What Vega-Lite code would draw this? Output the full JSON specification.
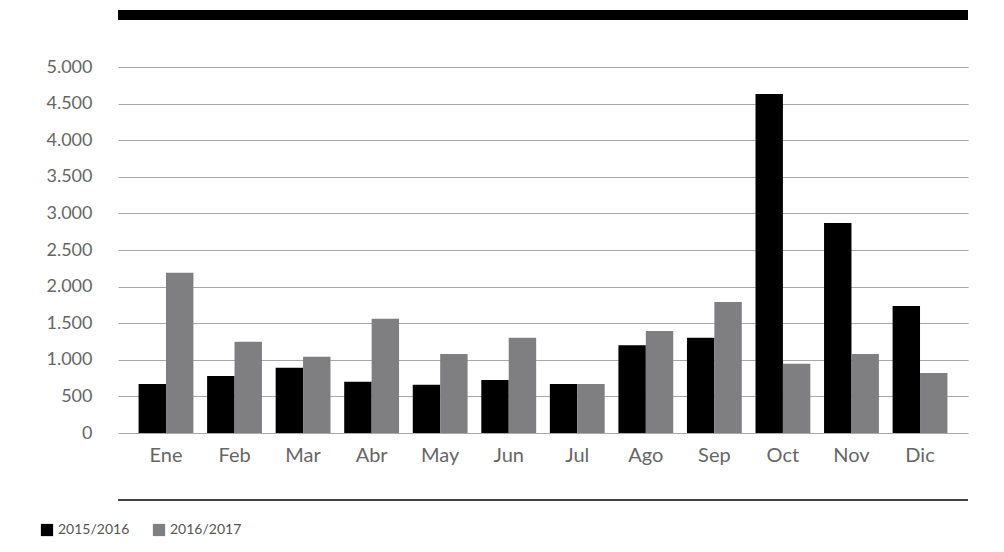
{
  "$schema": "https://vega.github.io/schema/vega-lite/v6.json",
  "autosize": "none",
  "width": 850,
  "height": 366,
  "padding": {"left": 118, "top": 67, "right": 36, "bottom": 119},
  "background": "#ffffff",
  "config": {
    "view": {"stroke": null},
    "font": "Lato",
    "axis": {"labelFont": "Lato", "labelColor": "#666666"}
  },
  "datasets": {
    "bars": [
      {"mes": "Ene", "temporada": "2015/2016", "valor": 670},
      {"mes": "Ene", "temporada": "2016/2017", "valor": 2190},
      {"mes": "Feb", "temporada": "2015/2016", "valor": 780},
      {"mes": "Feb", "temporada": "2016/2017", "valor": 1245},
      {"mes": "Mar", "temporada": "2015/2016", "valor": 890},
      {"mes": "Mar", "temporada": "2016/2017", "valor": 1040},
      {"mes": "Abr", "temporada": "2015/2016", "valor": 700},
      {"mes": "Abr", "temporada": "2016/2017", "valor": 1560},
      {"mes": "May", "temporada": "2015/2016", "valor": 660},
      {"mes": "May", "temporada": "2016/2017", "valor": 1080},
      {"mes": "Jun", "temporada": "2015/2016", "valor": 725},
      {"mes": "Jun", "temporada": "2016/2017", "valor": 1300},
      {"mes": "Jul", "temporada": "2015/2016", "valor": 670},
      {"mes": "Jul", "temporada": "2016/2017", "valor": 670},
      {"mes": "Ago", "temporada": "2015/2016", "valor": 1200},
      {"mes": "Ago", "temporada": "2016/2017", "valor": 1395},
      {"mes": "Sep", "temporada": "2015/2016", "valor": 1300},
      {"mes": "Sep", "temporada": "2016/2017", "valor": 1790},
      {"mes": "Oct", "temporada": "2015/2016", "valor": 4630},
      {"mes": "Oct", "temporada": "2016/2017", "valor": 945},
      {"mes": "Nov", "temporada": "2015/2016", "valor": 2870},
      {"mes": "Nov", "temporada": "2016/2017", "valor": 1080},
      {"mes": "Dic", "temporada": "2015/2016", "valor": 1735},
      {"mes": "Dic", "temporada": "2016/2017", "valor": 820}
    ],
    "deco": [
      {"valor": 5710, "tipo": "top"},
      {"valor": -915, "tipo": "bottom"}
    ]
  },
  "encoding": {
    "y": {
      "field": "valor",
      "type": "quantitative",
      "scale": {"domain": [0, 5000], "nice": false},
      "axis": {
        "title": null,
        "domain": false,
        "ticks": false,
        "grid": true,
        "gridColor": "#a8a8a8",
        "gridWidth": 1.2,
        "values": [0,500,1000,1500,2000,2500,3000,3500,4000,4500,5000],
        "labelOverlap": false,
        "labelExpr": "replace(format(datum.value, ','), ',', '.')",
        "labelPadding": 26,
        "labelFontSize": 18,
        "labelColor": "#666666"
      }
    }
  },
  "layer": [
    {
      "data": {"name": "bars"},
      "mark": {"type": "bar"},
      "encoding": {
        "x": {
          "field": "mes",
          "type": "nominal",
          "sort": ["Ene","Feb","Mar","Abr","May","Jun","Jul","Ago","Sep","Oct","Nov","Dic"],
          "scale": {"paddingInner": 0.2, "paddingOuter": 0.3},
          "axis": {
            "title": null,
            "domain": false,
            "ticks": false,
            "labelAngle": 0,
            "labelFontSize": 20,
            "labelPadding": 12,
            "labelColor": "#666666"
          }
        },
        "xOffset": {"field": "temporada", "type": "nominal"},
        "color": {
          "field": "temporada",
          "type": "nominal",
          "scale": {"domain": ["2015/2016", "2016/2017"], "range": ["#000000", "#7f7f82"]},
          "legend": {
            "title": null,
            "orient": "none",
            "legendX": -78,
            "legendY": 456,
            "direction": "horizontal",
            "symbolType": "square",
            "symbolSize": 150,
            "symbolStrokeWidth": 0,
            "labelFontSize": 14,
            "labelColor": "#555555",
            "labelOffset": 4,
            "columnPadding": 22
          }
        }
      }
    },
    {
      "data": {"name": "deco"},
      "transform": [{"filter": "datum.tipo == 'top'"}],
      "mark": {"type": "rule", "color": "#000000", "strokeWidth": 10},
      "encoding": {}
    },
    {
      "data": {"name": "deco"},
      "transform": [{"filter": "datum.tipo == 'bottom'"}],
      "mark": {"type": "rule", "color": "#444444", "strokeWidth": 2},
      "encoding": {}
    }
  ]
}
